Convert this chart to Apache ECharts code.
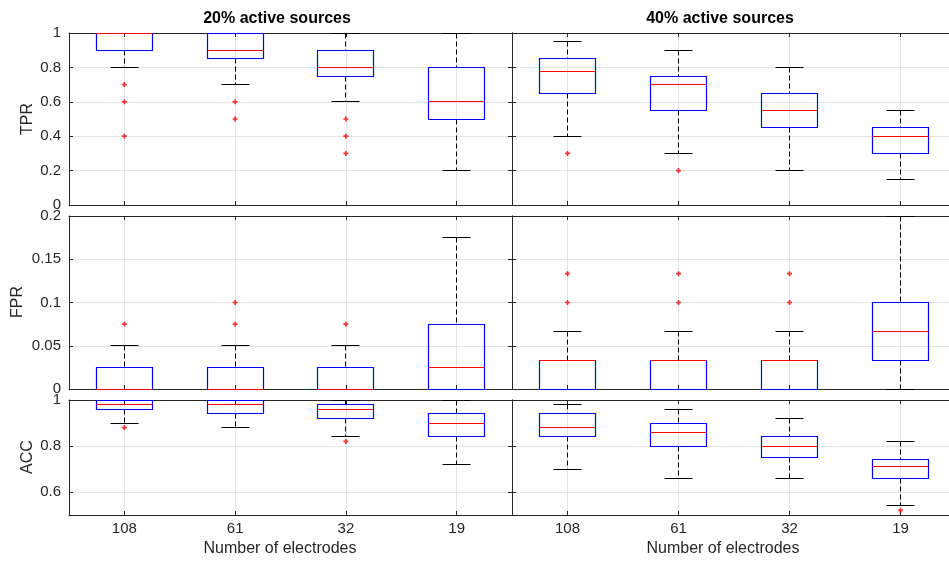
<!DOCTYPE html>
<html><head><meta charset="utf-8">
<script src="https://cdn.jsdelivr.net/npm/echarts@6/dist/echarts.min.js"></script>
<style>html,body{margin:0;padding:0;background:#fff}#c{width:949px;height:561px}</style>
</head><body><div id="c"></div>
<script>
// ---------------- data ----------------
const categories = ['108', '61', '32', '19'];
const columnTitles = ['20% active sources', '40% active sources'];
const metricNames = ['TPR', 'FPR', 'ACC'];
const xAxisName = 'Number of electrodes';

// each box: [lower whisker, Q1, median, Q3, upper whisker]; outliers: [category index, value]
const tpr20 = [[0.8, 0.9, 1, 1, 1], [0.7, 0.85, 0.9, 1, 1], [0.6, 0.75, 0.8, 0.9, 1], [0.2, 0.5, 0.6, 0.8, 1]];
const tpr20Out = [[0, 0.7], [0, 0.6], [0, 0.4], [1, 0.6], [1, 0.5], [2, 0.5], [2, 0.4], [2, 0.3]];
const tpr40 = [[0.4, 0.65, 0.775, 0.85, 0.95], [0.3, 0.55, 0.7, 0.75, 0.9], [0.2, 0.45, 0.55, 0.65, 0.8], [0.15, 0.3, 0.4, 0.45, 0.55]];
const tpr40Out = [[0, 0.3], [1, 0.2]];
const fpr20 = [[0, 0, 0, 0.025, 0.05], [0, 0, 0, 0.025, 0.05], [0, 0, 0, 0.025, 0.05], [0, 0, 0.025, 0.075, 0.175]];
const fpr20Out = [[0, 0.075], [1, 0.075], [1, 0.1], [2, 0.075]];
const fpr40 = [[0, 0, 0.0333, 0.0333, 0.0667], [0, 0, 0.0333, 0.0333, 0.0667], [0, 0, 0.0333, 0.0333, 0.0667], [0, 0.0333, 0.0667, 0.1, 0.2]];
const fpr40Out = [[0, 0.1], [0, 0.1333], [1, 0.1], [1, 0.1333], [2, 0.1], [2, 0.1333]];
const acc20 = [[0.9, 0.96, 0.98, 1, 1], [0.88, 0.94, 0.98, 1, 1], [0.84, 0.92, 0.96, 0.98, 1], [0.72, 0.84, 0.9, 0.94, 1]];
const acc20Out = [[0, 0.88], [2, 0.82]];
const acc40 = [[0.7, 0.84, 0.88, 0.94, 0.98], [0.66, 0.8, 0.86, 0.9, 0.96], [0.66, 0.75, 0.8, 0.84, 0.92], [0.54, 0.66, 0.71, 0.74, 0.82]];
const acc40Out = [[3, 0.52]];

const tprTicks = [0, 0.2, 0.4, 0.6, 0.8, 1];
const fprTicks = [0, 0.05, 0.1, 0.15, 0.2];
const accTicks = [0.6, 0.8, 1];
const tprRange = [0, 1];
const fprRange = [0, 0.2];
const accRange = [0.5, 1];

// ---------------- layout / style ----------------
const FONT = "'Liberation Sans', Arial, Helvetica, sans-serif";
const AXIS_COLOR = '#262626';
const GRID_COLOR = '#e3e3e3';
const colLeft = [69, 512];
const colWidth = [443, 444];
const rowTop = [33, 216, 400];
const rowHeight = [172, 173, 115];

const rows = [
  { name: metricNames[0], range: tprRange, ticks: tprTicks, boxes: [tpr20, tpr40], outs: [tpr20Out, tpr40Out] },
  { name: metricNames[1], range: fprRange, ticks: fprTicks, boxes: [fpr20, fpr40], outs: [fpr20Out, fpr40Out] },
  { name: metricNames[2], range: accRange, ticks: accTicks, boxes: [acc20, acc40], outs: [acc20Out, acc40Out] }
];
const catPositions = categories.map((c, i) => i + 1);

function crisp(v) { return Math.round(v - 0.5) + 0.5; }

function renderBox(params, api) {
  const x = api.value(0);
  const v = [1, 2, 3, 4, 5].map(i => api.value(i));
  const cx = crisp(api.coord([x, v[0]])[0]);
  const y = v.map(val => crisp(api.coord([x, val])[1]));
  const halfBox = api.size([0.5, 0])[0] / 2;
  const halfCap = api.size([0.25, 0])[0] / 2;
  const L = crisp(cx - halfBox), R = crisp(cx + halfBox);
  const cL = crisp(cx - halfCap), cR = crisp(cx + halfCap);
  const dashed = { stroke: '#000', lineWidth: 1, lineDash: [5, 3], fill: null };
  const solid = (c) => ({ stroke: c, lineWidth: 1, fill: null });
  const children = [];
  if (y[0] !== y[1]) children.push({ type: 'line', shape: { x1: cx, y1: y[1], x2: cx, y2: y[0] }, style: dashed });
  if (y[3] !== y[4]) children.push({ type: 'line', shape: { x1: cx, y1: y[4], x2: cx, y2: y[3] }, style: dashed });
  children.push({ type: 'line', shape: { x1: cL, y1: y[0], x2: cR, y2: y[0] }, style: solid('#000') });
  children.push({ type: 'line', shape: { x1: cL, y1: y[4], x2: cR, y2: y[4] }, style: solid('#000') });
  children.push({ type: 'rect', shape: { x: L, y: y[3], width: R - L, height: y[1] - y[3] }, style: { stroke: '#0000ff', lineWidth: 1.2, fill: null } });
  children.push({ type: 'line', shape: { x1: L, y1: y[2], x2: R, y2: y[2] }, style: solid('#ff0000') });
  return { type: 'group', children };
}

const grid = [], xAxis = [], yAxis = [], series = [];
const PLUS = 'path://M2,0h2v2h2v2h-2v2h-2v-2h-2v-2h2z';

rows.forEach((row, r) => {
  [0, 1].forEach(c => {
    const p = grid.length;
    grid.push({ left: colLeft[c], top: rowTop[r], width: colWidth[c], height: rowHeight[r], containLabel: false, outerBoundsMode: 'none' });
    const isBottom = r === 2;
    const baseX = {
      type: 'value', gridIndex: p, min: 0.5, max: 4.5,
      axisLine: { show: true, onZero: false, lineStyle: { color: AXIS_COLOR, width: 1 } },
      axisTick: { show: true, inside: true, length: 4, customValues: catPositions, lineStyle: { color: AXIS_COLOR } },
      splitLine: { show: false }
    };
    xAxis.push(Object.assign({}, baseX, {
      position: 'bottom',
      axisLabel: { show: isBottom, customValues: catPositions, formatter: v => categories[Math.round(v) - 1], color: AXIS_COLOR, fontFamily: FONT, fontSize: 15, margin: 6 },
      splitLine: { show: true, lineStyle: { color: GRID_COLOR, width: 1 } }
    }));
    xAxis.push(Object.assign({}, baseX, { position: 'top', axisLabel: { show: false } }));
    const baseY = {
      type: 'value', gridIndex: p, min: row.range[0], max: row.range[1],
      axisLine: { show: true, onZero: false, lineStyle: { color: AXIS_COLOR, width: 1 } },
      axisTick: { show: true, inside: true, length: 4, customValues: row.ticks, lineStyle: { color: AXIS_COLOR } },
      splitLine: { show: false }
    };
    yAxis.push(Object.assign({}, baseY, {
      position: 'left',
      axisLabel: { show: c === 0, customValues: row.ticks, color: AXIS_COLOR, fontFamily: FONT, fontSize: 15, margin: 8 },
      splitLine: { show: true, lineStyle: { color: GRID_COLOR, width: 1 } }
    }));
    yAxis.push(Object.assign({}, baseY, { position: 'right', show: c === 0, axisLabel: { show: false } }));

    series.push({
      type: 'custom', xAxisIndex: 2 * p, yAxisIndex: 2 * p, clip: false,
      encode: { x: 0, y: [1, 2, 3, 4, 5] },
      data: row.boxes[c].map((b, i) => [catPositions[i]].concat(b)),
      renderItem: renderBox, z: 3
    });
    series.push({
      type: 'scatter', xAxisIndex: 2 * p, yAxisIndex: 2 * p,
      symbol: PLUS, symbolSize: 5, itemStyle: { color: '#ff0000' },
      data: row.outs[c].map(o => [catPositions[o[0]], o[1]]),
      z: 4, silent: true
    });
  });
});

const textStyle = (txt, size, bold) => ({ text: txt, fill: AXIS_COLOR, font: (bold ? 'bold ' : '') + size + 'px ' + FONT, align: 'center', verticalAlign: 'middle' });
const graphic = [
  { type: 'text', x: 277, y: 19, style: Object.assign(textStyle(columnTitles[0], 16, true), { fill: '#000' }) },
  { type: 'text', x: 720, y: 19, style: Object.assign(textStyle(columnTitles[1], 16, true), { fill: '#000' }) },
  { type: 'text', x: 280, y: 549, style: textStyle(xAxisName, 16, false) },
  { type: 'text', x: 723, y: 549, style: textStyle(xAxisName, 16, false) },
  { type: 'text', x: 28, y: 119, rotation: Math.PI / 2, style: textStyle(metricNames[0], 16, false) },
  { type: 'text', x: 18, y: 302, rotation: Math.PI / 2, style: textStyle(metricNames[1], 16, false) },
  { type: 'text', x: 28, y: 457, rotation: Math.PI / 2, style: textStyle(metricNames[2], 16, false) }
];

const chart = echarts.init(document.getElementById('c'), null, { renderer: 'canvas' });
chart.setOption({ animation: false, backgroundColor: '#fff', grid, xAxis, yAxis, series, graphic });
</script>
</body></html>
